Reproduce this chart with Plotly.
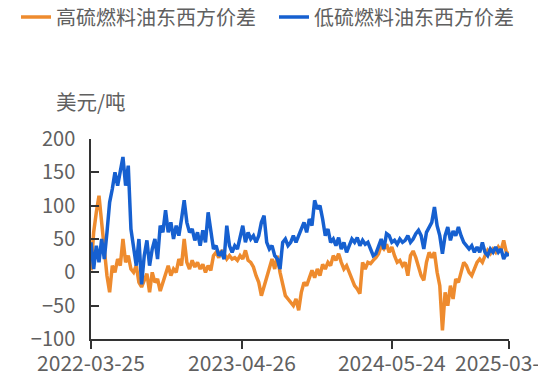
import plotly.graph_objects as go
import pandas as pd

dates = pd.date_range("2022-03-25", periods=158, freq="7D")

hsfo_spread = [
    3, 60, 90, 115, 75, 30, -5, -30, 10, 0,
    20, 10, 50, 15, 25, 5, 0, 10, -15, -22,
    -10, -2, -30, 0, -15, -10, -28, -15, -5, 10,
    -5, 5, 0, 20, 10, 50, 15, 5, 18, 8,
    15, 5, 12, 0, 10, 3, 25, 30, 22, 33,
    28, 20, 25, 20, 22, 18, 25, 20, 33, 18,
    15, 8, -5, -15, -35, -20, -10, 10, 20, 5,
    25, 0, -15, -35, -40, -45, -50, -40, -57, -30,
    -15, -20, -10, 3, -8, 5, -5, 12, 5, 15,
    10, 25, 18, 28, 15, 5, 10, 0, -10, -20,
    -25, -32, 15, 5, 15, 13, 18, 22, 28, 40,
    35, 42, 30, 38, 25, 15, 18, 10, 15, -5,
    25, 32, 22, 10, -5, -12, 15, 30, 22, 30,
    0, -20, -87, -30, -50, -20, -40, -10, -15, 0,
    15, 10, 0, -5, 5, 15, 20, 15, 25, 33,
    28, 35, 30, 38, 32, 48, 30, 28,
]

lsfo_spread = [
    45, 5, 40, 15, 50, 20, 60, 105, 125, 150,
    130, 150, 173, 130, 160, 65, 40, 10, 50, -18,
    25, 48, 10, 35, 50, 20, 70, 60, 93, 60,
    75, 50, 70, 55, 80, 108, 75, 60, 65, 48,
    60, 40, 63, 45, 90, 60, 35, 40, 25, 30,
    20, 70, 40, 30, 40, 35, 50, 70, 45, 60,
    50, 55, 45, 55, 75, 85, 45, 35, 40, 25,
    20, 5, 45, 50, 40, 45, 55, 45, 55, 65,
    75, 60, 80, 70, 108, 95, 100, 80, 55, 65,
    45, 50, 40, 52, 35, 45, 30, 40, 50, 45,
    52, 40, 48, 42, 45, 35, 25, 28, 40, 50,
    35, 58, 55, 45, 48, 42, 50, 45, 48, 55,
    45, 50, 58, 63, 55, 35, 60, 68, 75, 98,
    70, 55, 28, 55, 68, 48, 62, 55, 68, 55,
    45, 40, 35, 40, 30, 38, 30, 45, 30, 25,
    35, 30, 38, 30, 35, 20, 28, 25,
]

x_tick_vals = ["2022-03-25", "2023-04-26", "2024-05-24", "2025-03-28"]
x_tick_text = ["2022-03-25", "2023-04-26", "2024-05-24", "2025-03-28"]
y_tick_vals = [-100, -50, 0, 50, 100, 150, 200]

FONT = "Noto Sans CJK SC"
GREY = "#606060"
AXIS = "#333333"
W, H = 538, 368

fig = go.Figure()
fig.add_trace(go.Scatter(x=dates, y=hsfo_spread, mode="lines",
                         name="高硫燃料油东西方价差", legend="legend",
                         line=dict(color="#EE8B2E", width=3.5)))
fig.add_trace(go.Scatter(x=dates, y=lsfo_spread, mode="lines",
                         name="低硫燃料油东西方价差", legend="legend2",
                         line=dict(color="#1660D0", width=3.5)))

legend_common = dict(orientation="h", xref="container", yref="container",
                     y=1 - 9 / H, xanchor="left", yanchor="middle",
                     font=dict(size=20, color=GREY, family=FONT), itemwidth=30,
                     bgcolor="rgba(0,0,0,0)")

fig.update_layout(
    width=W, height=H,
    margin=dict(l=83, r=37, t=131, b=37, autoexpand=False),
    paper_bgcolor="white", plot_bgcolor="white",
    font=dict(family=FONT, color=GREY, size=20),
    showlegend=True,
    legend=dict(x=8 / W, **legend_common),
    legend2=dict(x=266 / W, **legend_common),
    xaxis=dict(type="date", range=["2022-03-25", "2025-03-28"],
               tickmode="array", tickvals=x_tick_vals, ticktext=x_tick_text,
               tickangle=0, showgrid=False, zeroline=False, automargin=False,
               ticklabeloverflow="allow", ticklabelstandoff=-3,
               showline=True, linecolor=AXIS, linewidth=1.5,
               ticks="outside", ticklen=8, tickwidth=1.5, tickcolor=AXIS,
               tickfont=dict(size=21, color=GREY, family=FONT)),
    yaxis=dict(range=[-100, 200], tickmode="array", tickvals=y_tick_vals,
               showgrid=False, zeroline=False, automargin=False,
               showline=True, linecolor=AXIS, linewidth=1.5,
               ticks="inside", ticklen=8, tickwidth=1.5, tickcolor=AXIS,
               ticklabelstandoff=10,
               tickfont=dict(size=20, color=GREY, family=FONT)),
    annotations=[dict(text="美元/吨", xref="paper", yref="paper", x=0, y=1,
                      xanchor="center", yanchor="bottom", yshift=21, xshift=0,
                      showarrow=False, font=dict(size=20.5, color=GREY, family=FONT))],
)

fig.write_html("out.html")
